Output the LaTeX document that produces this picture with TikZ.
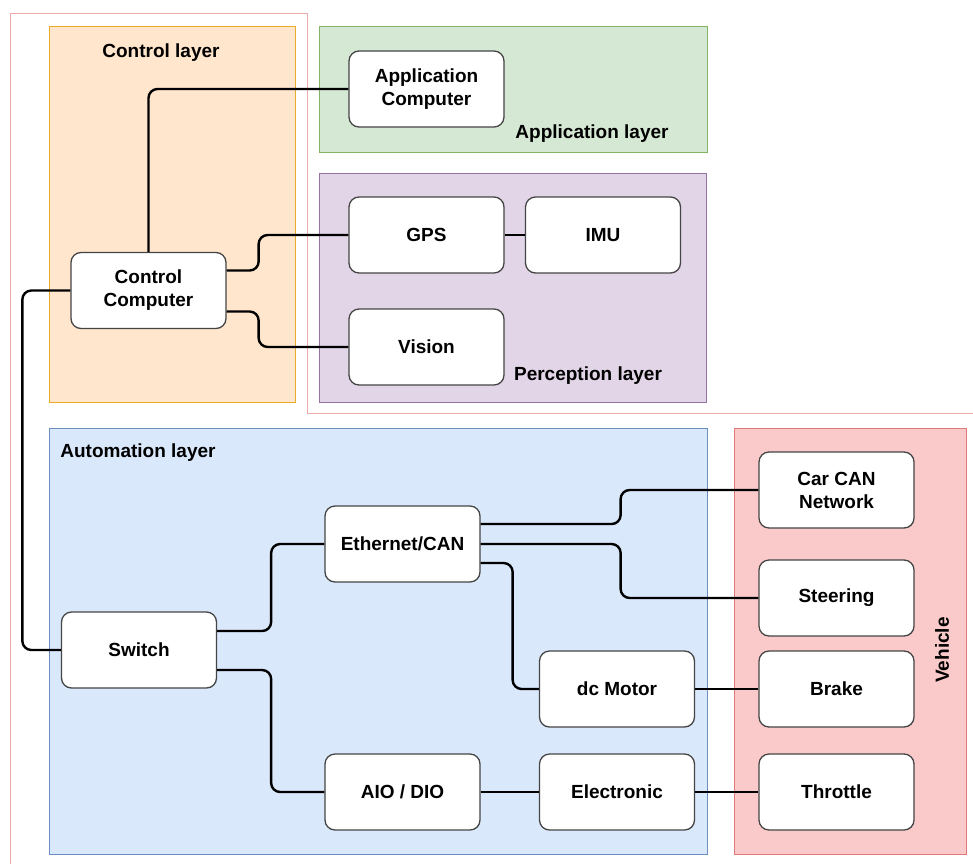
\documentclass[tikz,border=0pt]{standalone}
\usepackage{fontspec}
\setmainfont{Liberation Sans}
\usetikzlibrary{positioning}
\definecolor{ctrlfill}{HTML}{FFE6CC}\definecolor{ctrlline}{HTML}{EAAA2A}
\definecolor{appfill}{HTML}{D5E8D4}\definecolor{appline}{HTML}{82B366}
\definecolor{perfill}{HTML}{E1D5E7}\definecolor{perline}{HTML}{9673A6}
\definecolor{autfill}{HTML}{DAE8FC}\definecolor{autline}{HTML}{6C8EBF}
\definecolor{vehfill}{HTML}{FACACA}\definecolor{vehline}{HTML}{E07A78}
\definecolor{frameline}{HTML}{EFA8A8}
\definecolor{boxline}{HTML}{454545}
\tikzset{
  unit/.style={draw=boxline, line width=1.3pt, fill=white, rounded corners=10pt,
    minimum width=155pt, minimum height=76pt, align=center,
    font=\fontsize{19}{23}\selectfont\bfseries},
  layer/.style={line width=1pt},
  layerlabel/.style={font=\fontsize{19}{23}\selectfont\bfseries, inner sep=0pt},
  conn/.style={line width=2.4pt, rounded corners=9pt}
}
\begin{document}
\begin{tikzpicture}[x=1pt,y=-1pt]
\useasboundingbox (0,0) rectangle (973,864);
\fill[white] (0,0) rectangle (973,864);

% thin outer frame
\draw[frameline, line width=0.7pt] (973,413) -- (307,413) -- (307,13) -- (10,13) -- (10,864);

% layer panels
\draw[layer, draw=ctrlline, fill=ctrlfill] (49,27) rectangle (295,402);
\draw[layer, draw=appline, fill=appfill] (319,27) rectangle (707,152);
\draw[layer, draw=perline, fill=perfill] (319,173) rectangle (706,402);
\draw[layer, draw=autline, fill=autfill] (49,428) rectangle (707,854);
\draw[layer, draw=vehline, fill=vehfill] (734,428) rectangle (966,854);

\node[layerlabel] (lctrl) at (161,53) {Control layer};
\node[layerlabel] (lapp) at (592,134) {Application layer};
\node[layerlabel] (lper) at (588,376) {Perception layer};
\node[layerlabel] (laut) at (138,453) {Automation layer};
\node[layerlabel, rotate=90] (lveh) at (942,650) {Vehicle};

% units
\node[unit] (app) at (426.5,89) {Application\\Computer};
\node[unit] (gps) at (426.5,235) {GPS};
\node[unit] (imu) at (603,235) {IMU};
\node[unit] (vis) at (426.5,347) {Vision};
\node[unit] (cc) at (148.5,290.5) {Control\\Computer};
\node[unit] (sw) at (139,650) {Switch};
\node[unit] (eth) at (402.5,544) {Ethernet/CAN};
\node[unit] (dcm) at (617,689) {dc Motor};
\node[unit] (aio) at (402.5,792) {AIO / DIO};
\node[unit] (elec) at (617,792) {Electronic};
\node[unit] (can) at (836.5,490) {Car CAN\\Network};
\node[unit] (steer) at (836.5,598) {Steering};
\node[unit] (brake) at (836.5,689) {Brake};
\node[unit] (thr) at (836.5,792) {Throttle};

% connections
\draw[conn] (cc.north) |- (app.west);
\draw[conn] ([yshift=20pt]cc.east) -- ++(32,0) |- (gps.west);
\draw[conn] ([yshift=-21pt]cc.east) -- ++(32,0) |- (vis.west);
\draw[conn] (gps) -- (imu);
\draw[conn] (cc.west) -- ++(-48,0) |- (sw.west);
\draw[conn] ([yshift=19pt]sw.east) -- ++(54,0) |- (eth.west);
\draw[conn] ([yshift=-20pt]sw.east) -- ++(54,0) |- (aio.west);
\draw[conn] ([yshift=20pt]eth.east) -- ++(140,0) |- (can.west);
\draw[conn] (eth.east) -- ++(140,0) |- (steer.west);
\draw[conn] ([yshift=-19pt]eth.east) -- ++(32,0) |- (dcm.west);
\draw[conn] (dcm) -- (brake);
\draw[conn] (aio) -- (elec);
\draw[conn] (elec) -- (thr);
\end{tikzpicture}
\end{document}
